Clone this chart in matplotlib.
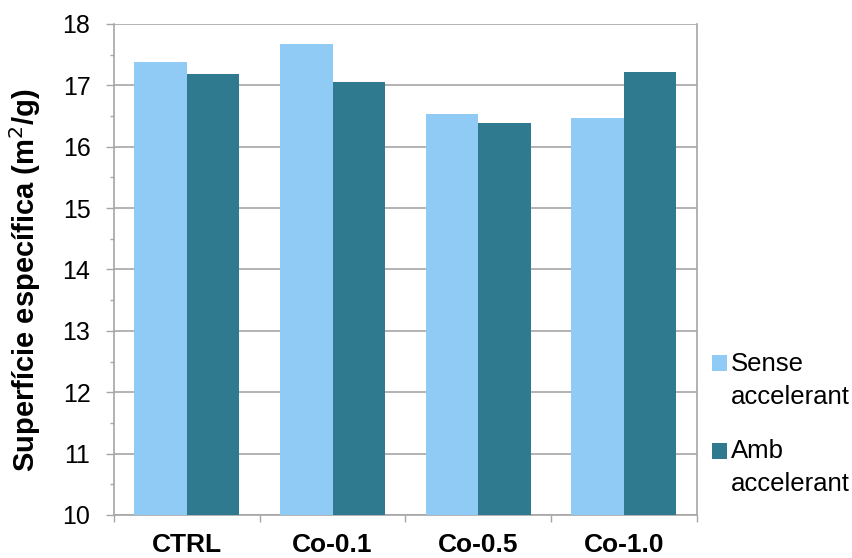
import numpy as np
import matplotlib.pyplot as plt
from matplotlib.patches import Patch, Rectangle
from matplotlib.legend_handler import HandlerPatch
from matplotlib.ticker import MultipleLocator, FixedLocator

plt.rcParams['font.family'] = ['Liberation Sans', 'DejaVu Sans']

categories = ['CTRL', 'Co-0.1', 'Co-0.5', 'Co-1.0']
sense_acc = [17.38, 17.68, 16.54, 16.47]
amb_acc = [17.19, 17.05, 16.39, 17.22]
series_names = ['Sense\naccelerant', 'Amb\naccelerant']

light = '#8fcbf5'
dark = '#2f7a8f'
edge = '#a6a6a6'


class TopLinePatch(HandlerPatch):
    # put the legend square next to the first line of a two-line label
    def __init__(self, shift, **kw):
        super().__init__(**kw)
        self.shift = shift

    def create_artists(self, legend, orig_handle, xdescent, ydescent,
                       width, height, fontsize, trans):
        p = Rectangle((-xdescent, -ydescent + self.shift), width, height,
                      facecolor=orig_handle.get_facecolor(), edgecolor='none')
        p.set_transform(trans)
        return [p]


fig = plt.figure(figsize=(8.52, 5.58), dpi=100)
ax = fig.add_axes([0.1338, 0.0771, 0.684, 0.8799])

x = np.arange(len(categories))
w = 0.36
ax.bar(x - w / 2, np.array(sense_acc) - 10, w, bottom=10, color=light, zorder=3)
ax.bar(x + w / 2, np.array(amb_acc) - 10, w, bottom=10, color=dark, zorder=3)

ax.set_ylim(10, 18)
ax.set_xlim(-0.5, len(categories) - 0.5)
ax.yaxis.set_major_locator(MultipleLocator(1))
ax.yaxis.set_minor_locator(MultipleLocator(0.5))
ax.grid(axis='y', which='major', color=edge, linewidth=1.2, zorder=0)

ax.set_xticks(x)
ax.set_xticklabels(categories, fontsize=19, fontweight='bold')
ax.xaxis.set_minor_locator(FixedLocator(np.arange(-0.5, len(categories), 1.0)))
ax.tick_params(axis='x', which='major', length=0, pad=13)
ax.tick_params(axis='x', which='minor', length=5, color=edge, width=1)
ax.tick_params(axis='y', which='major', length=6, color=edge, width=1, labelsize=18, pad=11)
ax.tick_params(axis='y', which='minor', length=3, color=edge, width=1)

for s in ax.spines.values():
    s.set_color(edge)
    s.set_linewidth(1.2)
ax.spines['top'].set_visible(False)

ax.set_ylabel('Superfície específica (m$^2$/g)', fontsize=21, fontweight='bold', labelpad=14)
ax.yaxis.label.set_y(0.478)

handles = [Patch(facecolor=light), Patch(facecolor=dark)]
leg = fig.legend(handles, series_names, loc='upper left', bbox_to_anchor=(0.8357, 0.369),
                 frameon=False, fontsize=18.5, handlelength=0.58, handleheight=0.58,
                 handletextpad=0.15, labelspacing=1.2, borderpad=0, borderaxespad=0,
                 handler_map={Patch: TopLinePatch(shift=12.6)})
for t in leg.get_texts():
    t.set_linespacing(1.45)

fig.savefig('out.png', dpi=100)
